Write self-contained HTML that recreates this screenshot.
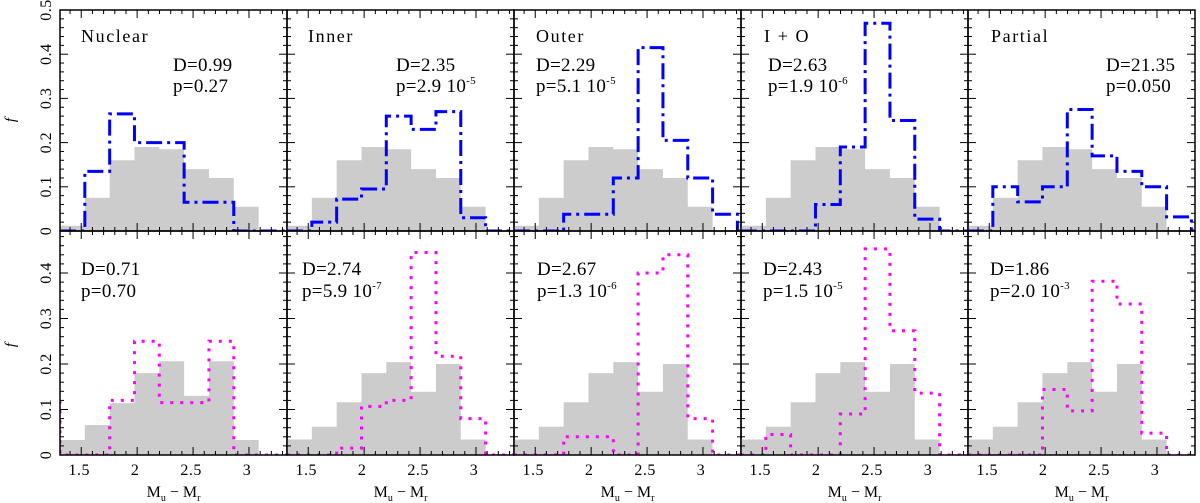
<!DOCTYPE html>
<html><head><meta charset="utf-8"><style>
html,body{margin:0;padding:0;background:#fff;}
svg{display:block;font-family:"Liberation Serif",serif;}
</style></head><body>
<svg id="chart" width="1200" height="503" viewBox="0 0 1200 503" xmlns="http://www.w3.org/2000/svg"></svg>
<script>
// ---- data ----
const binEdgeStart = 1.31;
const binWidth = 0.222;
const panelNames = ["Nuclear","Inner","Outer","I + O","Partial"];
const greyTop = [0.012,0.075,0.16,0.19,0.185,0.14,0.12,0.055,0];
const greyBottomNuclear = [0.033,0.066,0.114,0.18,0.206,0.13,0.206,0.033,0];
const greyBottom = [0.034,0.062,0.116,0.18,0.204,0.139,0.2,0.034,0];
const blueNuclear = [0,0.135,0.265,0.2,0.2,0.065,0.065,0,0];
const blueInner = [0,0.02,0.072,0.095,0.26,0.23,0.27,0.03,0];
const blueOuter = [0,0,0.038,0.038,0.12,0.415,0.205,0.12,0.038];
const blueIO = [0,0,0,0.06,0.19,0.47,0.25,0.027,0];
const bluePartial = [0,0.1,0.066,0.1,0.275,0.17,0.135,0.1,0.032];
const pinkLeftNuclear = 0.12;
const pinkNuclear = [0,0,0.12,0.25,0.115,0.115,0.25,0,0];
const pinkInner = [0,0,0.015,0.107,0.12,0.445,0.217,0.08,0];
const pinkOuter = [0,0,0.04,0.04,0,0.4,0.44,0.08,0];
const pinkIO = [0,0.045,0,0,0.09,0.453,0.273,0.136,0];
const pinkPartial = [0,0,0,0.144,0.097,0.382,0.332,0.048,0];
const statsTopD = ["D=0.99","D=2.35","D=2.29","D=2.63","D=21.35"];
const statsTopP = ["p=0.27","p=2.9 10","p=5.1 10","p=1.9 10","p=0.050"];
const statsTopExp = ["","-5","-5","-6",""];
const statsBotD = ["D=0.71","D=2.74","D=2.67","D=2.43","D=1.86"];
const statsBotP = ["p=0.70","p=5.9 10","p=1.3 10","p=1.5 10","p=2.0 10"];
const statsBotExp = ["","-7","-6","-5","-3"];
const xTicks = [1.5,2,2.5,3];
const xTickLabels = ["1.5","2","2.5","3"];
const yTicksTop = [0,0.1,0.2,0.3,0.4,0.5];
const yTicksBot = [0,0.1,0.2,0.3,0.4];

// ---- layout ----
const NS="http://www.w3.org/2000/svg";
const svg=document.getElementById('chart');
const panelLeft=[60,287,514,741,968], panelW=227;
const topY0=10, topY1=231, botY0=231, botY1=455;
const xMin=1.31, xMax=3.34;
function xs(p,v){return panelLeft[p]+(v-xMin)/(xMax-xMin)*panelW;}
function ysTop(v){return topY1-v/0.5*(topY1-topY0);}
function ysBot(v){return botY1-v*455;}
function mk(tag,attrs,parent){const e=document.createElementNS(NS,tag);for(const k in attrs)e.setAttribute(k,attrs[k]);(parent||svg).appendChild(e);return e;}

const blues=[blueNuclear,blueInner,blueOuter,blueIO,bluePartial];
const pinks=[pinkNuclear,pinkInner,pinkOuter,pinkIO,pinkPartial];

function greyPath(p,vals,ys){
  let d='M'+xs(p,binEdgeStart)+','+ys(0);
  vals.forEach((v,i)=>{const a=xs(p,binEdgeStart+i*binWidth),b=xs(p,binEdgeStart+(i+1)*binWidth);d+=' L'+a+','+ys(v)+' L'+b+','+ys(v);});
  d+=' L'+xs(p,binEdgeStart+vals.length*binWidth)+','+ys(0)+'Z';
  return d;
}
function stepPath(p,vals,ys,left){
  let d='M'+xs(p,binEdgeStart)+','+ys(left||0);
  vals.forEach((v,i)=>{const a=xs(p,binEdgeStart+i*binWidth),b=xs(p,binEdgeStart+(i+1)*binWidth);d+=' L'+a+','+ys(v)+' L'+b+','+ys(v);});
  d+=' L'+xs(p,binEdgeStart+vals.length*binWidth)+','+ys(0)+' L'+(panelLeft[p]+panelW)+','+ys(0);
  return d;
}

for(let p=0;p<5;p++){
  const L=panelLeft[p],R=L+panelW;
  const cpT=mk('clipPath',{id:'cT'+p});mk('rect',{x:L,y:topY0,width:panelW,height:topY1-topY0},cpT);
  const cpB=mk('clipPath',{id:'cB'+p});mk('rect',{x:L,y:botY0,width:panelW,height:botY1-botY0},cpB);
  const gT=mk('g',{'clip-path':'url(#cT'+p+')'});
  
  
  const gr=mk('path',{d:greyPath(p,greyTop,ysTop),fill:'#cccccc',stroke:'none'},gT);
  
  
  const bl=mk('path',{d:stepPath(p,blues[p],ysTop),fill:'none',stroke:'#0000ff','stroke-width':3,'stroke-dasharray':'16 5 3 5'},gT);
  
  
  const gB=mk('g',{'clip-path':'url(#cB'+p+')'});
  
  
  const gr2=mk('path',{d:greyPath(p,p===0?greyBottomNuclear:greyBottom,ysBot),fill:'#cccccc',stroke:'none'},gB);
  
  
  const pk=mk('path',{d:stepPath(p,pinks[p],ysBot,p===0?pinkLeftNuclear:0),fill:'none',stroke:'#ff00ff','stroke-width':3,'stroke-dasharray':'3 7'},gB);
  
  
  [[topY0,topY1],[botY0,botY1]].forEach(([a,b])=>{
    const f=mk('rect',{x:L,y:a,width:panelW,height:b-a,fill:'none',stroke:'#000','stroke-width':1.5});
    
    
  });
  const tg=mk('g',{stroke:'#000','stroke-width':1});
  for(let k=0;k<=20;k++){
    const v=1.4+k*0.1; if(v>xMax) break;
    const x=xs(p,v); const major=Math.abs(v*2-Math.round(v*2))<1e-6; const len=major?8:4;
    [[topY0,1],[topY1,-1],[botY0,1],[botY1,-1]].forEach(([y,s])=>mk('line',{x1:x,x2:x,y1:y,y2:y+s*len},tg));
  }
  for(let k=0;k<=25;k++){
    const v=k*0.02; const major=k%5===0; const len=major?8:4;
    const yt=ysTop(v); if(yt>=topY0-0.5) {mk('line',{x1:L,x2:L+len,y1:yt,y2:yt},tg);mk('line',{x1:R,x2:R-len,y1:yt,y2:yt},tg);}
    const yb=ysBot(v); if(yb>=botY0) {mk('line',{x1:L,x2:L+len,y1:yb,y2:yb},tg);mk('line',{x1:R,x2:R-len,y1:yb,y2:yb},tg);}
  }
  xTicks.forEach((v,i)=>{const t=mk('text',{x:xs(p,v)-2,y:475,'text-anchor':'middle','font-size':16,'letter-spacing':0.5});t.textContent=xTickLabels[i];
    });
  const xt=mk('text',{x:L+panelW/2,y:497,'text-anchor':'middle','font-size':16});
  xt.innerHTML='M<tspan font-size="10" dy="4">u</tspan><tspan dy="-4">  \u2212  M</tspan><tspan font-size="10" dy="4">r</tspan>';
  
  
}

const titleX=[81,308,536,764,991];
panelNames.forEach((n,i)=>{const t=mk('text',{x:titleX[i],y:42,'font-size':18,'letter-spacing':1.6});t.textContent=n;
  });
const topStatX=[173,396,536,768,1106], botStatX=[81,302,537,763,990];
function stat(x,y,txt,exp){const t=mk('text',{x:x,y:y,'font-size':19,'letter-spacing':0.3});t.textContent=txt;
  if(exp){const s=mk('tspan',{'font-size':11,dy:-8},t);s.textContent=exp;}
  }
for(let i=0;i<5;i++){
  stat(topStatX[i],71,statsTopD[i]);stat(topStatX[i],92,statsTopP[i],statsTopExp[i]);
  stat(botStatX[i],275,statsBotD[i]);stat(botStatX[i],297,statsBotP[i],statsBotExp[i]);
}
function ylab(y,txt){const t=mk('text',{x:0,y:0,'text-anchor':'middle','font-size':16,'letter-spacing':0.5,transform:'translate(51,'+y+') rotate(-90)'});t.textContent=txt;
  }
yTicksTop.forEach(v=>ylab(ysTop(v),String(v)));
yTicksBot.forEach(v=>ylab(ysBot(v),String(v)));
[120,345].forEach(y=>{const t=mk('text',{x:0,y:0,'text-anchor':'middle','font-size':15,'font-style':'italic',transform:'translate(15,'+y+') rotate(-90)'});t.textContent='f';
  });
</script>
</body></html>
